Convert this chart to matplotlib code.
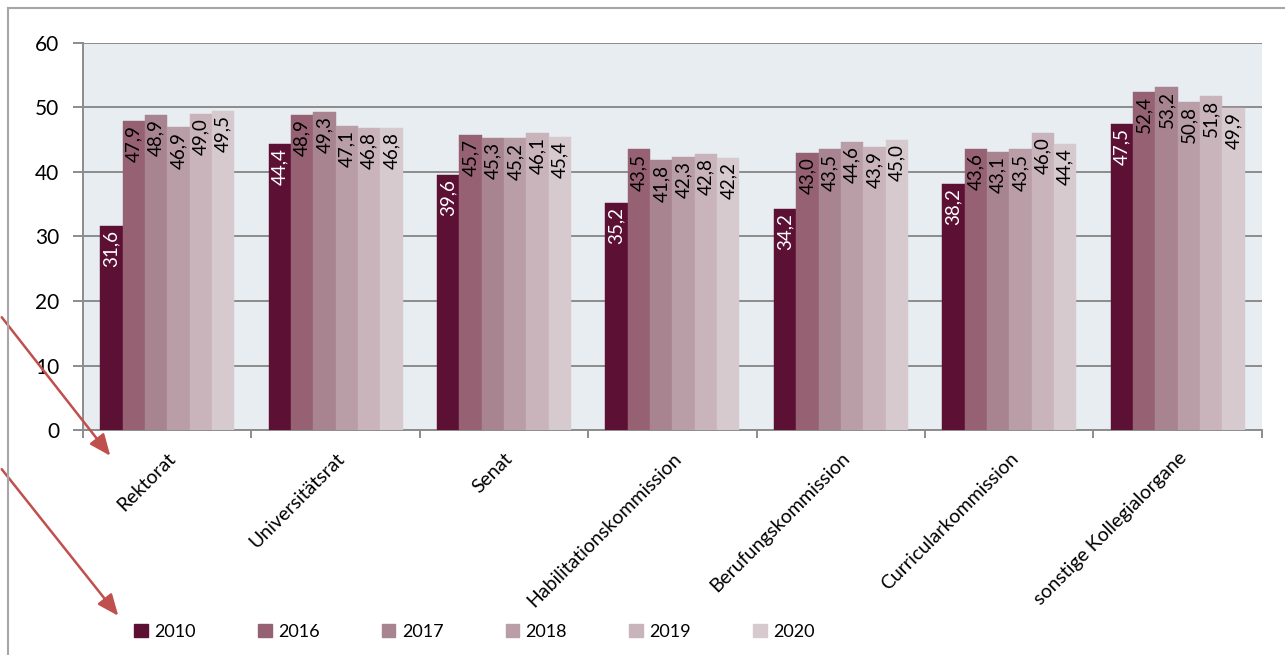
#!/usr/bin/env python3
"""Frauenanteil in Kollegialorganen, 2010 und 2016-2020 (grouped bars)."""

import matplotlib.pyplot as plt
import numpy as np
from matplotlib.lines import Line2D

# -- Data

CATEGORIES = [
    "Rektorat",
    "Universitätsrat",
    "Senat",
    "Habilitationskommission",
    "Berufungskommission",
    "Curricularkommission",
    "sonstige Kollegialorgane",
]
YEARS = ["2010", "2016", "2017", "2018", "2019", "2020"]

V2010 = [31.6, 44.4, 39.6, 35.2, 34.2, 38.2, 47.5]
V2016 = [47.9, 48.9, 45.7, 43.5, 43.0, 43.6, 52.4]
V2017 = [48.9, 49.3, 45.3, 41.8, 43.5, 43.1, 53.2]
V2018 = [46.9, 47.1, 45.2, 42.3, 44.6, 43.5, 50.8]
V2019 = [49.0, 46.8, 46.1, 42.8, 43.9, 46.0, 51.8]
V2020 = [49.5, 46.8, 45.4, 42.2, 45.0, 44.4, 49.9]

SERIES = [V2010, V2016, V2017, V2018, V2019, V2020]
COLORS = ["#5b1034", "#966273", "#a88390", "#b99ea8", "#c9b4bb", "#d7cacf"]
LABEL_COLORS = ["white", "black", "black", "black", "black", "black"]

FONT = ["Lato", "DejaVu Sans"]
plt.rcParams["font.family"] = FONT

# -- Figure

fig = plt.figure(figsize=(12.85, 6.55), dpi=100)
ax = fig.add_axes([0.0646, 0.3435, 0.9174, 0.5909])
ax.set_facecolor("#e8edf1")

n = len(YEARS)
w = 0.796 / n
x = np.arange(len(CATEGORIES))
for j, (vals, col, lcol) in enumerate(zip(SERIES, COLORS, LABEL_COLORS)):
    pos = x + (j - (n - 1) / 2) * w
    ax.bar(pos, vals, w, color=col, edgecolor=col, linewidth=0.3,
           zorder=3, label=YEARS[j])
    for px, v in zip(pos, vals):
        ax.annotate(
            f"{v:.1f}".replace(".", ","),
            (px, v), xytext=(0, -3), textcoords="offset points",
            rotation=90, ha="center", va="top",
            fontsize=13.5, color=lcol, zorder=4,
        )

ax.set_xlim(-0.5, len(CATEGORIES) - 0.5)
ax.set_ylim(0, 60)
ax.set_yticks(range(0, 61, 10))
ax.yaxis.grid(True, color="#8c8c8c", linewidth=1.4, zorder=1)
ax.set_axisbelow(True)

for s in ["top", "right"]:
    ax.spines[s].set_visible(False)
for s in ["left", "bottom"]:
    ax.spines[s].set_color("#8c8c8c")
    ax.spines[s].set_linewidth(1.4)

ax.tick_params(axis="y", length=7, width=1.4, color="#8c8c8c",
               labelsize=15, pad=10)
ax.set_xticks(x)
ax.set_xticklabels(CATEGORIES, rotation=45, ha="right",
                   rotation_mode="anchor", fontsize=14)
ax.tick_params(axis="x", which="major", length=0, pad=14)
ax.set_xticks(np.arange(-0.5, len(CATEGORIES)), minor=True)
ax.tick_params(axis="x", which="minor", length=6, width=1.4,
               color="#8c8c8c")

# -- Legend

handles = [
    plt.Rectangle((0, 0), 1, 1, color=c) for c in COLORS
]
fig.legend(
    handles, YEARS, loc="center left", ncol=6, frameon=False,
    bbox_to_anchor=(0.092, 0.035), fontsize=13,
    handlelength=0.75, handleheight=0.75, handletextpad=0.35,
    columnspacing=3.45,
)

# -- Outer frame (cropped chart border)

fig.add_artist(Line2D([8 / 1285, 1], [1 - 8 / 655, 1 - 8 / 655],
                      color="#a6a6a6", linewidth=1.5))
fig.add_artist(Line2D([8 / 1285, 8 / 1285], [0, 1 - 8 / 655],
                      color="#a6a6a6", linewidth=1.5))

# -- Red arrows pointing to labels and legend

arrow = dict(arrowstyle="-|>,head_length=1.3,head_width=0.55",
             color="#c0504d", linewidth=1.8)
ax.annotate("", xy=(112, 197), xytext=(0, 340),
            xycoords="figure pixels", textcoords="figure pixels",
            arrowprops=arrow, annotation_clip=False)
ax.annotate("", xy=(120, 37), xytext=(0, 188),
            xycoords="figure pixels", textcoords="figure pixels",
            arrowprops=arrow, annotation_clip=False)

fig.savefig("out.png", dpi=100)
